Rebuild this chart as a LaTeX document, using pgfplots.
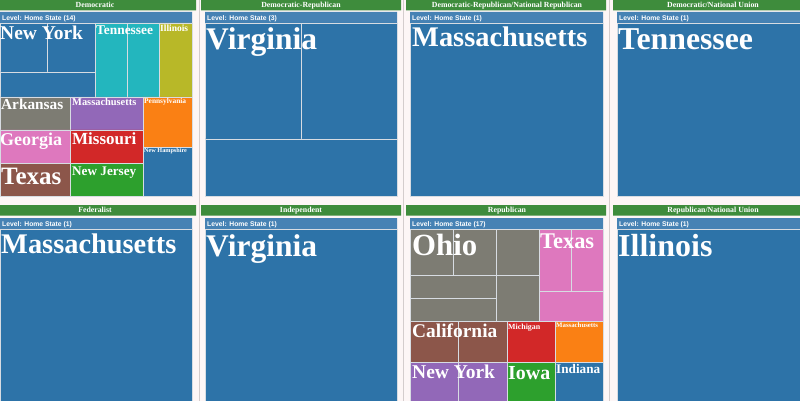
\documentclass[border=0pt]{standalone}
\usepackage{pgfplots}
\pgfplotsset{compat=1.18}
\usepackage{fontspec}
\setmainfont{Liberation Serif}
\newfontfamily\lsans{Liberation Sans}

\definecolor{bgc}{RGB}{253,246,246}
\definecolor{hdrc}{RGB}{62,140,60}
\definecolor{lvlc}{RGB}{70,130,180}
\definecolor{cblue}{RGB}{45,115,168}
\definecolor{cteal}{RGB}{35,182,190}
\definecolor{colive}{RGB}{184,184,40}
\definecolor{cgray}{RGB}{125,124,115}
\definecolor{cpurple}{RGB}{146,104,184}
\definecolor{corange}{RGB}{250,128,20}
\definecolor{cpink}{RGB}{222,120,190}
\definecolor{cred}{RGB}{210,40,40}
\definecolor{cbrown}{RGB}{140,86,74}
\definecolor{cgreen}{RGB}{45,160,45}
\definecolor{cline}{RGB}{215,220,226}
\definecolor{sepc}{RGB}{212,205,205}

% cell: colour, x1, y1, x2, y2 (pixel coordinates)
\newcommand{\cell}[5]{\addplot[fill=#1, draw=cline, line width=0.8pt] coordinates {(#2,#3) (#4,#3) (#4,#5) (#2,#5) (#2,#3)};}
\newcommand{\band}[5]{\addplot[fill=#1, draw=none] coordinates {(#2,#3) (#4,#3) (#4,#5) (#2,#5) (#2,#3)};}
% label: x, baseline y, size, text
\newcommand{\lab}[4]{\node[anchor=base west, inner sep=0pt, text=white, font=\bfseries\fontsize{#3}{#3}\selectfont] at (axis cs:#1,#2) {#4};}
\newcommand{\hdr}[3]{\node[anchor=base, inner sep=0pt, text=white, font=\bfseries\fontsize{7.8}{8}\selectfont] at (axis cs:#1,#2) {#3};}
\newcommand{\lvl}[3]{\node[anchor=base west, inner sep=0pt, text=white, font=\lsans\bfseries\fontsize{6.8}{7}\selectfont] at (axis cs:#1,#2) {Level: Home State (#3)};}

\begin{document}
\begin{tikzpicture}
\begin{axis}[
  width=800pt, height=401pt, scale only axis,
  xmin=0, xmax=800, ymin=0, ymax=401, y dir=reverse,
  axis lines=none, clip=false,
  axis background/.style={fill=bgc},
]
% separators
\addplot[draw=sepc, line width=1pt] coordinates {(199.5,0) (199.5,401)};
\addplot[draw=sepc, line width=1pt] coordinates {(403.5,0) (403.5,401)};
\addplot[draw=sepc, line width=1pt] coordinates {(609.5,0) (609.5,401)};

% ---------- headers row 1 ----------
\band{hdrc}{0}{0}{196}{10.5}
\band{hdrc}{201}{0}{401}{10.5}
\band{hdrc}{406}{0}{606}{10.5}
\band{hdrc}{613}{0}{800}{10.5}
\band{lvlc}{0}{12}{192}{23}
\band{lvlc}{205}{12}{397}{23}
\band{lvlc}{410}{12}{603}{23}
\band{lvlc}{617}{12}{800}{23}
% ---------- headers row 2 ----------
\band{hdrc}{0}{205}{196}{215.5}
\band{hdrc}{201}{205}{401}{215.5}
\band{hdrc}{406}{205}{606}{215.5}
\band{hdrc}{613}{205}{800}{215.5}
\band{lvlc}{0}{218}{192}{229}
\band{lvlc}{205}{218}{397}{229}
\band{lvlc}{410}{218}{603}{229}
\band{lvlc}{617}{218}{800}{229}

% ---------- Democratic (14) ----------
\cell{cblue}{0}{23}{47}{72}
\cell{cblue}{47}{23}{95}{72}
\cell{cblue}{0}{72}{95}{97}
\cell{cteal}{95}{23}{127}{97}
\cell{cteal}{127}{23}{159}{97}
\cell{colive}{159}{23}{192}{97}
\cell{cgray}{0}{97}{70}{130}
\cell{cpurple}{70}{97}{143}{130}
\cell{corange}{143}{97}{192}{147}
\cell{cpink}{0}{130}{70}{163}
\cell{cred}{70}{130}{143}{163}
\cell{cblue}{143}{147}{192}{196}
\cell{cbrown}{0}{163}{70}{196}
\cell{cgreen}{70}{163}{143}{196}

% ---------- Democratic-Republican (3) ----------
\cell{cblue}{205}{23}{301}{139}
\cell{cblue}{301}{23}{397}{139}
\cell{cblue}{205}{139}{397}{196}

% ---------- Democratic-Republican/National Republican (1) ----------
\cell{cblue}{410}{23}{603}{196}
% ---------- Democratic/National Union (1) ----------
\cell{cblue}{617}{23}{809}{196}

% ---------- Federalist (1) ----------
\cell{cblue}{0}{229}{192}{402}
% ---------- Independent (1) ----------
\cell{cblue}{205}{229}{397}{402}
% ---------- Republican (17) ----------
\cell{cgray}{410}{229}{453}{275}
\cell{cgray}{453}{229}{496}{275}
\cell{cgray}{496}{229}{539}{275}
\cell{cgray}{410}{275}{496}{298}
\cell{cgray}{410}{298}{496}{321}
\cell{cgray}{496}{275}{539}{321}
\cell{cpink}{539}{229}{571}{291}
\cell{cpink}{571}{229}{603}{291}
\cell{cpink}{539}{291}{603}{321}
\cell{cbrown}{410}{321}{458}{362}
\cell{cbrown}{458}{321}{507}{362}
\cell{cred}{507}{321}{555}{362}
\cell{corange}{555}{321}{603}{362}
\cell{cpurple}{410}{362}{458}{402}
\cell{cpurple}{458}{362}{507}{402}
\cell{cgreen}{507}{362}{555}{402}
\cell{cblue}{555}{362}{603}{402}
% ---------- Republican/National Union (1) ----------
\cell{cblue}{617}{229}{809}{402}

% ---------- header texts ----------
\hdr{95}{7.8}{Democratic}
\hdr{301}{7.8}{Democratic-Republican}
\hdr{507}{7.8}{Democratic-Republican/National Republican}
\hdr{713}{7.8}{Democratic/National Union}
\hdr{95}{212.8}{Federalist}
\hdr{301}{212.8}{Independent}
\hdr{507}{212.8}{Republican}
\hdr{713}{212.8}{Republican/National Union}

\lvl{2}{20.3}{14}
\lvl{207}{20.3}{3}
\lvl{412}{20.3}{1}
\lvl{619}{20.3}{1}
\lvl{2}{226.2}{1}
\lvl{207}{226.2}{1}
\lvl{412}{226.2}{17}
\lvl{619}{226.2}{1}

% ---------- state labels ----------
\lab{0}{39.6}{19.5}{New York}
\lab{96}{34.4}{13.4}{Tennessee}
\lab{160}{31.2}{9.5}{Illinois}
\lab{1}{110}{15.3}{Arkansas}
\lab{72}{106}{10.4}{Massachusetts}
\lab{144}{104}{7.4}{Pennsylvania}
\lab{0}{145.5}{18}{Georgia}
\lab{72}{144.5}{17}{Missouri}
\lab{144}{152.5}{6.2}{New Hampshire}
\lab{1}{184.5}{25}{Texas}
\lab{72}{175}{13.2}{New Jersey}
\lab{206}{50}{31.5}{Virginia}
\lab{412}{47}{28.4}{Massachusetts}
\lab{618}{50}{31.8}{Tennessee}
\lab{1}{253}{28.4}{Massachusetts}
\lab{206}{256}{31.5}{Virginia}
\lab{618}{256}{32}{Illinois}
\lab{412}{255}{30.8}{Ohio}
\lab{540}{248}{22.4}{Texas}
\lab{412}{337.5}{19.4}{California}
\lab{508}{329}{7.9}{Michigan}
\lab{556}{327.5}{6.8}{Massachusetts}
\lab{412}{378.5}{19.5}{New York}
\lab{508}{379}{19.9}{Iowa}
\lab{556}{373}{13.2}{Indiana}
\end{axis}
\pgfresetboundingbox
\useasboundingbox (0,0) rectangle (800pt,401pt);
\end{tikzpicture}
\end{document}
